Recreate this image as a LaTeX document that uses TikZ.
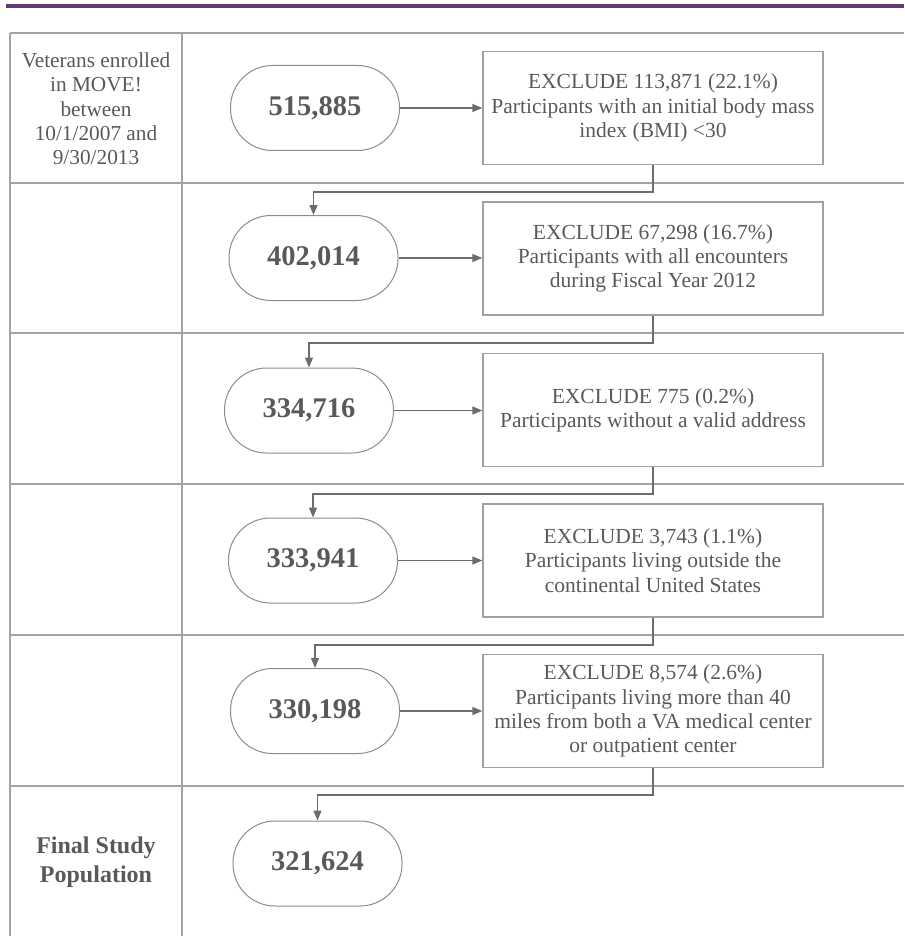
\documentclass[tikz,border=0pt]{standalone}
\usepackage{fontspec}
\setmainfont{Liberation Serif}
\usetikzlibrary{arrows.meta}
\definecolor{barpurple}{HTML}{5F3B6F}
\definecolor{gridgray}{HTML}{A3A3A3}
\definecolor{boxgray}{HTML}{A0A0A0}
\definecolor{ovalgray}{HTML}{8C8C8C}
\definecolor{arrgray}{HTML}{6C6C6C}
\definecolor{txtgray}{HTML}{595959}
\tikzset{
  grid/.style={draw=gridgray, line width=1.5pt},
  exclbox/.style={draw=boxgray, line width=1.3pt, rectangle, minimum width=340pt, minimum height=113pt,
    inner sep=0pt, align=center, text=txtgray, font=\fontsize{21.5}{24.3}\selectfont},
  countoval/.style={draw=ovalgray, line width=1pt, rectangle, rounded corners=42pt, minimum width=169pt,
    minimum height=85pt, inner sep=0pt, text=txtgray, font=\bfseries\fontsize{28.5}{30}\selectfont},
  lefttext/.style={align=center, text=txtgray, font=\fontsize{21.3}{24.3}\selectfont},
  leftbold/.style={align=center, text=txtgray, font=\bfseries\fontsize{24}{28.5}\selectfont},
  arr/.style={draw=arrgray, line width=1.3pt, -{Triangle[length=10pt,width=8pt]}},
}
\begin{document}
\begin{tikzpicture}[x=1pt,y=-1pt]
\useasboundingbox (0,0) rectangle (904,936);
% top purple bar
\fill[barpurple] (6,4.5) rectangle (904,8);
% table grid
\foreach \yy in {33,183,333,484,635,786}{
  \draw[grid] (10,\yy) -- (904,\yy);
}
\draw[grid] (10,33) -- (10,936);
\draw[grid] (182,33) -- (182,936);
% left column texts
\node[lefttext] (l1) at (96,109) {Veterans enrolled\\in MOVE!\\between\\10/1/2007 and\\9/30/2013};
\node[leftbold] (l6) at (96,862) {Final Study\\Population};
% ovals
\node[countoval] (o1) at (315,108) {515,885};
\node[countoval] (o2) at (313.5,258) {402,014};
\node[countoval] (o3) at (309,410.5) {334,716};
\node[countoval] (o4) at (313,560.5) {333,941};
\node[countoval] (o5) at (315,711) {330,198};
\node[countoval] (o6) at (317.5,863.5) {321,624};
% boxes
\node[exclbox] (b1) at (653,108) {EXCLUDE 113,871 (22.1\%)\\Participants with an initial body mass\\index (BMI) <30};
\node[exclbox] (b2) at (653,258.5) {EXCLUDE 67,298 (16.7\%)\\Participants with all encounters\\during Fiscal Year 2012};
\node[exclbox] (b3) at (653,410) {EXCLUDE 775 (0.2\%)\\Participants without a valid address};
\node[exclbox] (b4) at (653,560.5) {EXCLUDE 3,743 (1.1\%)\\Participants living outside the\\continental United States};
\node[exclbox] (b5) at (653,711) {EXCLUDE 8,574 (2.6\%)\\Participants living more than 40\\miles from both a VA medical center\\or outpatient center};
% horizontal arrows
\draw[arr] (o1.east) -- (o1.east -| b1.west);
\draw[arr] (o2.east) -- (o2.east -| b2.west);
\draw[arr] (o3.east) -- (o3.east -| b3.west);
\draw[arr] (o4.east) -- (o4.east -| b4.west);
\draw[arr] (o5.east) -- (o5.east -| b5.west);
% elbow connectors
\coordinate (k1) at (313.5,192);
\coordinate (k2) at (309,343);
\coordinate (k3) at (313,494);
\coordinate (k4) at (315,645);
\coordinate (k5) at (317.5,795);
\draw[arr] (b1.south) |- (k1) -- (o2.north);
\draw[arr] (b2.south) |- (k2) -- (o3.north);
\draw[arr] (b3.south) |- (k3) -- (o4.north);
\draw[arr] (b4.south) |- (k4) -- (o5.north);
\draw[arr] (b5.south) |- (k5) -- (o6.north);
\end{tikzpicture}
\end{document}
